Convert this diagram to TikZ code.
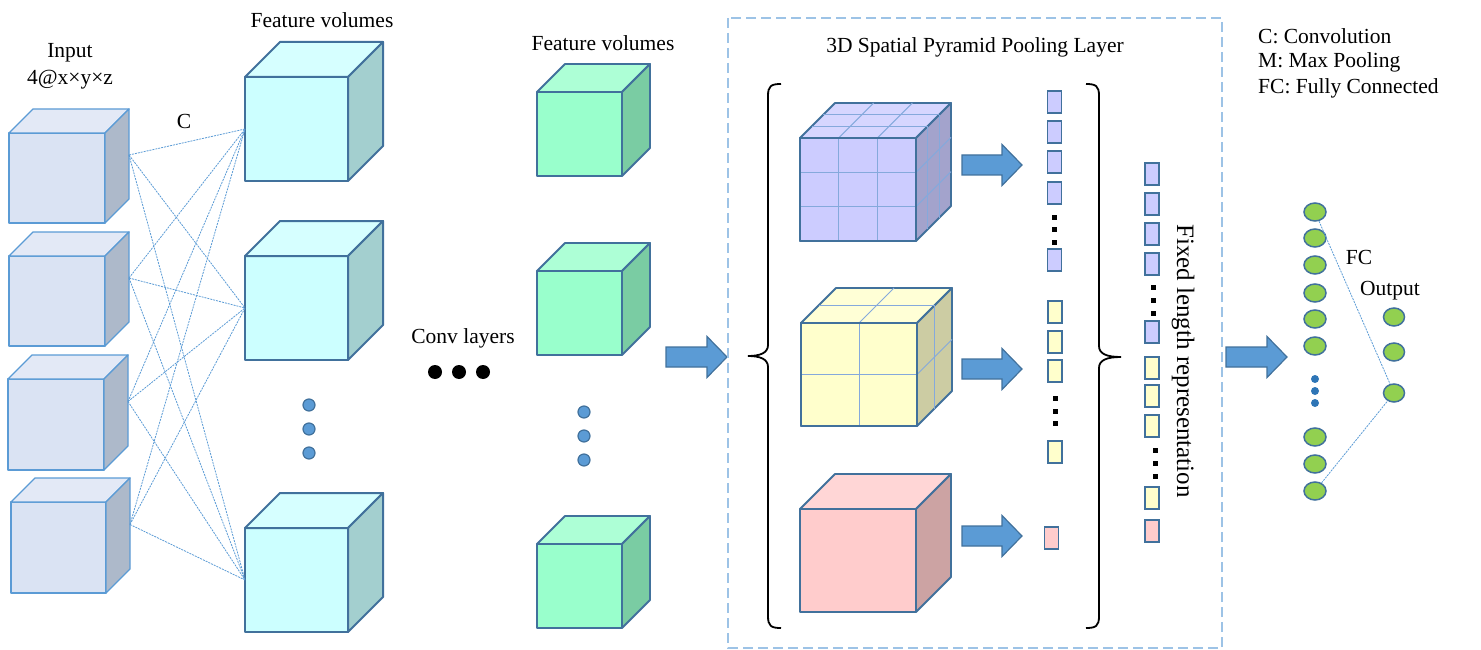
\documentclass[tikz,border=0pt]{standalone}
\usepackage{fontspec}
\setmainfont{Liberation Serif}
\usetikzlibrary{shapes.geometric,calc}
\definecolor{edgeblue}{HTML}{41719C}
\definecolor{lightblue}{HTML}{5B9BD5}
\definecolor{dashblue}{HTML}{9DC3E6}
\definecolor{gridblue}{HTML}{85A9DC}
\definecolor{inpfront}{HTML}{DAE3F3}
\definecolor{inptop}{HTML}{E3E9F6}
\definecolor{inpside}{HTML}{ADB9CA}
\definecolor{feafront}{HTML}{CCFFFF}
\definecolor{featop}{HTML}{D6FFFF}
\definecolor{feaside}{HTML}{A3CFCF}
\definecolor{grnfront}{HTML}{99FFCC}
\definecolor{grntop}{HTML}{ADFFD6}
\definecolor{grnside}{HTML}{7ACCA3}
\definecolor{purfront}{HTML}{CCCCFF}
\definecolor{purtop}{HTML}{D6D6FF}
\definecolor{purside}{HTML}{A3A3CC}
\definecolor{yelfront}{HTML}{FFFFCC}
\definecolor{yeltop}{HTML}{FFFFD6}
\definecolor{yelside}{HTML}{CCCCA3}
\definecolor{pnkfront}{HTML}{FFCCCC}
\definecolor{pnktop}{HTML}{FFD6D6}
\definecolor{pnkside}{HTML}{CCA3A3}
\definecolor{fcgreen}{HTML}{92D050}
\definecolor{fcdot}{HTML}{2E75B6}
\tikzset{
  inpedge/.style={draw=lightblue, line width=1.4pt, line join=round},
  feaedge/.style={draw=edgeblue, line width=2pt, line join=round},
  grnedge/.style={draw=edgeblue, line width=1.8pt, line join=round},
  puredge/.style={draw=edgeblue, line width=1.8pt, line join=round},
  yeledge/.style={draw=edgeblue, line width=1.8pt, line join=round},
  pnkedge/.style={draw=edgeblue, line width=1.8pt, line join=round},
  cubeedge/.style={#1edge},
  cubefront/.style={#1edge, fill=#1front, rectangle, inner sep=0pt, outer sep=0pt},
  gridline/.style={draw=gridblue, line width=1pt},
  link/.style={draw=lightblue, line width=0.8pt, dash pattern=on 2pt off 1pt},
  bluedot/.style={circle, fill=lightblue, draw=edgeblue, line width=1.2pt, minimum size=12pt, inner sep=0pt},
  blackdot/.style={circle, fill=black, minimum size=14pt, inner sep=0pt},
  sqdot/.style={rectangle, fill=black, minimum size=5pt, inner sep=0pt},
  fcdotst/.style={circle, fill=fcdot, minimum size=8pt, inner sep=0pt},
  vec/.style={rectangle, draw=edgeblue, line width=1.5pt, fill=#1front, minimum width=14pt, minimum height=22pt, inner sep=0pt},
  neuron/.style={ellipse, draw=edgeblue, line width=1.5pt, fill=fcgreen, minimum width=22pt, minimum height=18pt, inner sep=0pt},
  fatarrow/.style={fill=lightblue, draw=edgeblue, line width=1.2pt, line join=miter},
  lbl/.style={font=\fontsize{21.5}{26}\selectfont, inner sep=0pt},
}
\newcommand{\mycube}[7]{%
  \node[cubefront=#7, minimum width=#4pt, minimum height=#5pt, anchor=north west] (#1) at (#2,#3) {};
  \draw[cubeedge=#7, fill=#7top] (#1.north west) -- ++(#6,-#6) -- ++(#4,0) -- (#1.north east) -- cycle;
  \draw[cubeedge=#7, fill=#7side] (#1.north east) -- ++(#6,-#6) -- ++(0,#5) -- (#1.south east) -- cycle;
}
\newcommand{\bigarrow}[3]{% x start, y centre, x end
  \draw[fatarrow] (#1,#2-10) -- (#3-20,#2-10) -- (#3-20,#2-20.5) -- (#3,#2) -- (#3-20,#2+20.5) -- (#3-20,#2+10) -- (#1,#2+10) -- cycle;
}
\begin{document}
\begin{tikzpicture}[x=1pt,y=-1pt]
\useasboundingbox (0,0) rectangle (1481,650);

% ---------- input cubes ----------
\mycube{in1}{9}{133}{96}{90}{24}{inp}
\mycube{in2}{9}{256}{96}{90}{24}{inp}
\mycube{in3}{8}{379}{96}{91}{24}{inp}
\mycube{in4}{11}{502}{95}{91}{24}{inp}
\foreach \i in {1,...,4} {\coordinate (in\i r) at ([shift={(24,-23)}]in\i.east);}

% ---------- feature volumes (first) ----------
\mycube{fa}{245}{77}{103}{104}{35}{fea}
\mycube{fb}{245}{256}{103}{104}{35}{fea}
\mycube{fc}{245}{528}{103}{104}{35}{fea}

\foreach \i in {1,...,4} {
  \foreach \j in {fa,fb,fc} {\draw[link] (in\i r) -- (\j.west);}
}

\node[bluedot] (d1) at (309,405) {};
\node[bluedot] (d2) at (309,429) {};
\node[bluedot] (d3) at (309,453) {};

% ---------- labels left ----------
\node[lbl] (tin) at (70,53) {Input};
\node[lbl] (tin2) at (70,80) {4@x×y×z};
\node[lbl] (tc) at (184,121) {C};
\node[lbl] (tfv1) at (322,20) {Feature volumes};
\node[lbl] (tfv2) at (603,43) {Feature volumes};
\node[lbl] (tconv) at (463,338) {Conv layers};
\node[blackdot] (b1) at (435,372) {};
\node[blackdot] (b2) at (459,372) {};
\node[blackdot] (b3) at (483,372) {};

% ---------- green cubes ----------
\mycube{ga}{537}{92}{85}{84}{28}{grn}
\mycube{gb}{537}{271}{85}{84}{28}{grn}
\mycube{gc}{537}{544}{85}{84}{28}{grn}
\node[bluedot] (g1) at (584,412) {};
\node[bluedot] (g2) at (584,436) {};
\node[bluedot] (g3) at (584,460) {};

\bigarrow{666}{357}{727}

% ---------- SPP box ----------
\draw[draw=dashblue, line width=2pt, dash pattern=on 10pt off 5pt] (728,18) rectangle (1222,648);
\node[lbl] (tspp) at (975,47) {3D Spatial Pyramid Pooling Layer};

% braces
\draw[line width=1.8pt] (781,84) .. controls (771,84) and (768,86) .. (768,96) -- (768,345)
  .. controls (768,353) and (760,356) .. (748,356) .. controls (760,356) and (768,359) .. (768,367)
  -- (768,616) .. controls (768,626) and (771,628) .. (781,628);
\draw[line width=1.8pt] (1086,84) .. controls (1096,84) and (1099,86) .. (1099,96) -- (1099,346)
  .. controls (1099,354) and (1107,357) .. (1121,357) .. controls (1107,357) and (1099,360) .. (1099,368)
  -- (1099,616) .. controls (1099,626) and (1096,628) .. (1086,628);

% purple cube with 3x3 grid
\mycube{pur}{800}{138}{116}{103}{35}{pur}
\foreach \f in {1/3,2/3} {
  \draw[gridline] ($(pur.north west)!\f!(pur.south west)$) -- ($(pur.north east)!\f!(pur.south east)$);
  \draw[gridline] ($(pur.north west)!\f!(pur.north east)$) -- ($(pur.south west)!\f!(pur.south east)$);
  \draw[gridline] ($(pur.north west)!\f!(pur.north east)$) -- ++(35,-35);
  \draw[gridline] ($(pur.north west)+(\f*35,-\f*35)$) -- ++(116,0);
  \draw[gridline] ($(pur.north east)+(\f*35,-\f*35)$) -- ++(0,103);
  \draw[gridline] ($(pur.north east)!\f!(pur.south east)$) -- ++(35,-35);
}
\draw[puredge] (pur.north west) rectangle (pur.south east);

% yellow cube with 2x2 grid
\mycube{yel}{801}{323}{116}{103}{35}{yel}
\foreach \f in {1/2} {
  \draw[gridline] ($(yel.north west)!\f!(yel.south west)$) -- ($(yel.north east)!\f!(yel.south east)$);
  \draw[gridline] ($(yel.north west)!\f!(yel.north east)$) -- ($(yel.south west)!\f!(yel.south east)$);
  \draw[gridline] ($(yel.north west)!\f!(yel.north east)$) -- ++(35,-35);
  \draw[gridline] ($(yel.north west)+(\f*35,-\f*35)$) -- ++(116,0);
  \draw[gridline] ($(yel.north east)+(\f*35,-\f*35)$) -- ++(0,103);
  \draw[gridline] ($(yel.north east)!\f!(yel.south east)$) -- ++(35,-35);
}
\draw[yeledge] (yel.north west) rectangle (yel.south east);

% pink cube
\mycube{pnk}{800}{509}{116}{103}{35}{pnk}

% arrows inside
\bigarrow{962}{165}{1022}
\bigarrow{962}{369}{1022}
\bigarrow{962}{536}{1022}

% pooled vectors
\node[vec=pur] (p1) at (1054.5,102) {};
\node[vec=pur] (p2) at (1054.5,132) {};
\node[vec=pur] (p3) at (1054.5,162) {};
\node[vec=pur] (p4) at (1054.5,193) {};
\node[sqdot] (pd1) at (1054,217) {};
\node[sqdot] (pd2) at (1054,229) {};
\node[sqdot] (pd3) at (1054,242) {};
\node[vec=pur] (p5) at (1054.5,260) {};

\node[vec=yel] (y1) at (1055,312) {};
\node[vec=yel] (y2) at (1055,342) {};
\node[vec=yel] (y3) at (1055,371) {};
\node[sqdot] (yd1) at (1055,398) {};
\node[sqdot] (yd2) at (1055,411) {};
\node[sqdot] (yd3) at (1055,423) {};
\node[vec=yel] (y4) at (1055,452) {};

\node[vec=pnk] (k1) at (1051.5,538) {};

% fixed-length column
\node[vec=pur] (c1) at (1152,174) {};
\node[vec=pur] (c2) at (1152,204) {};
\node[vec=pur] (c3) at (1152,234) {};
\node[vec=pur] (c4) at (1152,264) {};
\node[sqdot] (cd1) at (1153,287) {};
\node[sqdot] (cd2) at (1153,300) {};
\node[sqdot] (cd3) at (1153,313) {};
\node[vec=pur] (c5) at (1152,332) {};
\node[vec=yel] (c6) at (1152,368) {};
\node[vec=yel] (c7) at (1152,396) {};
\node[vec=yel] (c8) at (1152,426) {};
\node[sqdot] (cd4) at (1155,450) {};
\node[sqdot] (cd5) at (1155,463) {};
\node[sqdot] (cd6) at (1155,476) {};
\node[vec=yel] (c9) at (1152,498) {};
\node[vec=pnk] (c10) at (1152,531) {};

\node[font=\fontsize{25}{30}\selectfont, inner sep=0pt, rotate=-90] (tfix) at (1183,361) {Fixed length representation};

\bigarrow{1226}{357}{1287}

% ---------- FC ----------
\node[neuron] (n1) at (1315,212) {};
\node[neuron] (n2) at (1315,238) {};
\node[neuron] (n3) at (1315,265) {};
\node[neuron] (n4) at (1315,293) {};
\node[neuron] (n5) at (1315,319) {};
\node[neuron] (n6) at (1315,346) {};
\node[fcdotst] (nd1) at (1315,379) {};
\node[fcdotst] (nd2) at (1315,391) {};
\node[fcdotst] (nd3) at (1315,403) {};
\node[neuron] (n7) at (1315,437) {};
\node[neuron] (n8) at (1315,464) {};
\node[neuron] (n9) at (1315,491) {};

\node[neuron, minimum width=21pt] (o1) at (1394,317) {};
\node[neuron, minimum width=21pt] (o2) at (1394,352) {};
\node[neuron, minimum width=21pt] (o3) at (1394,393) {};

\draw[link] (n1) -- (o3);
\draw[link] (n9) -- (o3);

\node[lbl] (tfc) at (1359,257) {FC};
\node[lbl] (tout) at (1390,291) {Output};

% legend
\node[lbl, anchor=west] (l1) at (1258,36) {C: Convolution};
\node[lbl, anchor=west] (l2) at (1258,62) {M: Max Pooling};
\node[lbl, anchor=west] (l3) at (1258,88) {FC: Fully Connected};
\end{tikzpicture}
\end{document}
